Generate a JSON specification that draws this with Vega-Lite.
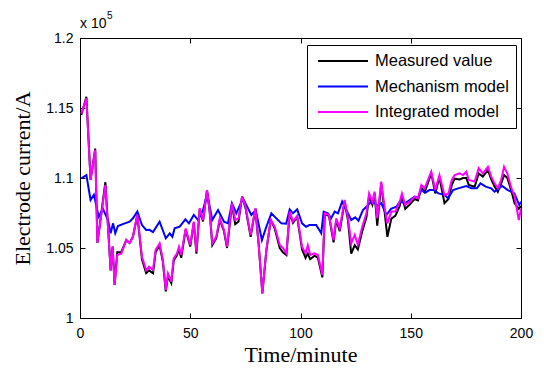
{
  "$schema": "https://vega.github.io/schema/vega-lite/v6.json",
  "width": 441,
  "height": 280,
  "autosize": {"type": "none"},
  "padding": {"left": 80, "top": 38, "right": 23, "bottom": 66},
  "background": "white",
  "config": {
    "view": {"stroke": "black", "strokeWidth": 1},
    "axis": {
      "grid": false,
      "domainColor": "black",
      "tickColor": "black",
      "tickSize": -5,
      "labelFlush": false,
      "labelOverlap": false,
      "labelFont": "Liberation Sans",
      "labelFontSize": 14,
      "labelColor": "black",
      "titleFont": "Liberation Serif",
      "titleFontSize": 22,
      "titleFontWeight": "normal",
      "titleColor": "black"
    }
  },
  "datasets": {
    "series": [
      {"minute": 0.6, "model": "Measured value", "current": 1.145},
      {"minute": 2.9, "model": "Measured value", "current": 1.158},
      {"minute": 4.8, "model": "Measured value", "current": 1.0986},
      {"minute": 6.9, "model": "Measured value", "current": 1.121},
      {"minute": 7.9, "model": "Measured value", "current": 1.0536},
      {"minute": 11.5, "model": "Measured value", "current": 1.097},
      {"minute": 13.9, "model": "Measured value", "current": 1.034},
      {"minute": 14.8, "model": "Measured value", "current": 1.051},
      {"minute": 15.7, "model": "Measured value", "current": 1.0236},
      {"minute": 16.9, "model": "Measured value", "current": 1.047},
      {"minute": 18.7, "model": "Measured value", "current": 1.047},
      {"minute": 21, "model": "Measured value", "current": 1.0557},
      {"minute": 22.5, "model": "Measured value", "current": 1.0536},
      {"minute": 24, "model": "Measured value", "current": 1.058},
      {"minute": 26, "model": "Measured value", "current": 1.0736},
      {"minute": 28.1, "model": "Measured value", "current": 1.042},
      {"minute": 30, "model": "Measured value", "current": 1.032},
      {"minute": 31.3, "model": "Measured value", "current": 1.034},
      {"minute": 33.1, "model": "Measured value", "current": 1.032},
      {"minute": 34.3, "model": "Measured value", "current": 1.047},
      {"minute": 36.1, "model": "Measured value", "current": 1.052},
      {"minute": 37.6, "model": "Measured value", "current": 1.04},
      {"minute": 38.9, "model": "Measured value", "current": 1.019},
      {"minute": 39.9, "model": "Measured value", "current": 1.03},
      {"minute": 41.4, "model": "Measured value", "current": 1.025},
      {"minute": 42.5, "model": "Measured value", "current": 1.041},
      {"minute": 44, "model": "Measured value", "current": 1.045},
      {"minute": 44.9, "model": "Measured value", "current": 1.049},
      {"minute": 45.9, "model": "Measured value", "current": 1.043},
      {"minute": 47.9, "model": "Measured value", "current": 1.063},
      {"minute": 50, "model": "Measured value", "current": 1.051},
      {"minute": 51.6, "model": "Measured value", "current": 1.068},
      {"minute": 52.8, "model": "Measured value", "current": 1.046},
      {"minute": 54.3, "model": "Measured value", "current": 1.078},
      {"minute": 55.8, "model": "Measured value", "current": 1.069},
      {"minute": 57.6, "model": "Measured value", "current": 1.0914},
      {"minute": 58.8, "model": "Measured value", "current": 1.076},
      {"minute": 60, "model": "Measured value", "current": 1.052},
      {"minute": 61.8, "model": "Measured value", "current": 1.057},
      {"minute": 63.4, "model": "Measured value", "current": 1.07},
      {"minute": 65.3, "model": "Measured value", "current": 1.062},
      {"minute": 66.7, "model": "Measured value", "current": 1.05},
      {"minute": 68.9, "model": "Measured value", "current": 1.081},
      {"minute": 70.4, "model": "Measured value", "current": 1.067},
      {"minute": 71.9, "model": "Measured value", "current": 1.069},
      {"minute": 73.5, "model": "Measured value", "current": 1.0867},
      {"minute": 75, "model": "Measured value", "current": 1.079},
      {"minute": 77.4, "model": "Measured value", "current": 1.058},
      {"minute": 79.5, "model": "Measured value", "current": 1.078},
      {"minute": 81, "model": "Measured value", "current": 1.053},
      {"minute": 82.7, "model": "Measured value", "current": 1.0176},
      {"minute": 84.5, "model": "Measured value", "current": 1.048},
      {"minute": 86.5, "model": "Measured value", "current": 1.07},
      {"minute": 88.3, "model": "Measured value", "current": 1.064},
      {"minute": 90.6, "model": "Measured value", "current": 1.05},
      {"minute": 92, "model": "Measured value", "current": 1.047},
      {"minute": 93.6, "model": "Measured value", "current": 1.045},
      {"minute": 95.1, "model": "Measured value", "current": 1.075},
      {"minute": 96.6, "model": "Measured value", "current": 1.068},
      {"minute": 98.5, "model": "Measured value", "current": 1.072},
      {"minute": 100.7, "model": "Measured value", "current": 1.049},
      {"minute": 102.3, "model": "Measured value", "current": 1.043},
      {"minute": 103.3, "model": "Measured value", "current": 1.046},
      {"minute": 104.4, "model": "Measured value", "current": 1.042},
      {"minute": 106.4, "model": "Measured value", "current": 1.0445},
      {"minute": 107.9, "model": "Measured value", "current": 1.043},
      {"minute": 109.9, "model": "Measured value", "current": 1.029},
      {"minute": 111, "model": "Measured value", "current": 1.074},
      {"minute": 112.9, "model": "Measured value", "current": 1.073},
      {"minute": 115, "model": "Measured value", "current": 1.054},
      {"minute": 116.2, "model": "Measured value", "current": 1.07},
      {"minute": 117.8, "model": "Measured value", "current": 1.062},
      {"minute": 120, "model": "Measured value", "current": 1.083},
      {"minute": 121.5, "model": "Measured value", "current": 1.07},
      {"minute": 123, "model": "Measured value", "current": 1.046},
      {"minute": 124.6, "model": "Measured value", "current": 1.052},
      {"minute": 126, "model": "Measured value", "current": 1.049},
      {"minute": 128, "model": "Measured value", "current": 1.062},
      {"minute": 129.9, "model": "Measured value", "current": 1.072},
      {"minute": 131.1, "model": "Measured value", "current": 1.087},
      {"minute": 132.6, "model": "Measured value", "current": 1.081},
      {"minute": 133.6, "model": "Measured value", "current": 1.089},
      {"minute": 134.8, "model": "Measured value", "current": 1.066},
      {"minute": 136.6, "model": "Measured value", "current": 1.096},
      {"minute": 138.2, "model": "Measured value", "current": 1.075},
      {"minute": 139.4, "model": "Measured value", "current": 1.058},
      {"minute": 141.2, "model": "Measured value", "current": 1.071},
      {"minute": 143, "model": "Measured value", "current": 1.073},
      {"minute": 145, "model": "Measured value", "current": 1.08},
      {"minute": 146, "model": "Measured value", "current": 1.087},
      {"minute": 147.5, "model": "Measured value", "current": 1.078},
      {"minute": 149.5, "model": "Measured value", "current": 1.081},
      {"minute": 151.8, "model": "Measured value", "current": 1.085},
      {"minute": 153.3, "model": "Measured value", "current": 1.084},
      {"minute": 154.8, "model": "Measured value", "current": 1.093},
      {"minute": 156.3, "model": "Measured value", "current": 1.09},
      {"minute": 157.5, "model": "Measured value", "current": 1.095},
      {"minute": 159.3, "model": "Measured value", "current": 1.1035},
      {"minute": 161.1, "model": "Measured value", "current": 1.089},
      {"minute": 163, "model": "Measured value", "current": 1.1005},
      {"minute": 165.3, "model": "Measured value", "current": 1.082},
      {"minute": 167.1, "model": "Measured value", "current": 1.085},
      {"minute": 168.6, "model": "Measured value", "current": 1.095},
      {"minute": 169.9, "model": "Measured value", "current": 1.0995},
      {"minute": 172.2, "model": "Measured value", "current": 1.099},
      {"minute": 173.7, "model": "Measured value", "current": 1.1},
      {"minute": 175.2, "model": "Measured value", "current": 1.1},
      {"minute": 176.3, "model": "Measured value", "current": 1.095},
      {"minute": 179, "model": "Measured value", "current": 1.0938},
      {"minute": 180.8, "model": "Measured value", "current": 1.1033},
      {"minute": 182.7, "model": "Measured value", "current": 1.101},
      {"minute": 185, "model": "Measured value", "current": 1.1057},
      {"minute": 186.5, "model": "Measured value", "current": 1.099},
      {"minute": 188, "model": "Measured value", "current": 1.094},
      {"minute": 189.5, "model": "Measured value", "current": 1.0902},
      {"minute": 191, "model": "Measured value", "current": 1.096},
      {"minute": 192.3, "model": "Measured value", "current": 1.1021},
      {"minute": 193.8, "model": "Measured value", "current": 1.1},
      {"minute": 195.6, "model": "Measured value", "current": 1.091},
      {"minute": 197.1, "model": "Measured value", "current": 1.0819},
      {"minute": 199, "model": "Measured value", "current": 1.078},
      {"minute": 200, "model": "Measured value", "current": 1.08},

      {"minute": 0.6, "model": "Mechanism model", "current": 1.0998},
      {"minute": 2.9, "model": "Mechanism model", "current": 1.102},
      {"minute": 4.8, "model": "Mechanism model", "current": 1.0843},
      {"minute": 6.3, "model": "Mechanism model", "current": 1.088},
      {"minute": 8.5, "model": "Mechanism model", "current": 1.0724},
      {"minute": 10.4, "model": "Mechanism model", "current": 1.078},
      {"minute": 12.7, "model": "Mechanism model", "current": 1.07},
      {"minute": 13.9, "model": "Mechanism model", "current": 1.0605},
      {"minute": 15, "model": "Mechanism model", "current": 1.0676},
      {"minute": 16, "model": "Mechanism model", "current": 1.0605},
      {"minute": 17.2, "model": "Mechanism model", "current": 1.0657},
      {"minute": 20.3, "model": "Mechanism model", "current": 1.0676},
      {"minute": 22.5, "model": "Mechanism model", "current": 1.0688},
      {"minute": 24, "model": "Mechanism model", "current": 1.0712},
      {"minute": 26, "model": "Mechanism model", "current": 1.076},
      {"minute": 28.1, "model": "Mechanism model", "current": 1.0664},
      {"minute": 30, "model": "Mechanism model", "current": 1.0629},
      {"minute": 31.5, "model": "Mechanism model", "current": 1.063},
      {"minute": 33.1, "model": "Mechanism model", "current": 1.0614},
      {"minute": 36.1, "model": "Mechanism model", "current": 1.0688},
      {"minute": 38.9, "model": "Mechanism model", "current": 1.0569},
      {"minute": 40.7, "model": "Mechanism model", "current": 1.0605},
      {"minute": 41.9, "model": "Mechanism model", "current": 1.058},
      {"minute": 42.9, "model": "Mechanism model", "current": 1.064},
      {"minute": 45.2, "model": "Mechanism model", "current": 1.0652},
      {"minute": 47.8, "model": "Mechanism model", "current": 1.0705},
      {"minute": 49.4, "model": "Mechanism model", "current": 1.0676},
      {"minute": 51.6, "model": "Mechanism model", "current": 1.0736},
      {"minute": 53.5, "model": "Mechanism model", "current": 1.07},
      {"minute": 55.8, "model": "Mechanism model", "current": 1.0771},
      {"minute": 57.7, "model": "Mechanism model", "current": 1.089},
      {"minute": 60, "model": "Mechanism model", "current": 1.07},
      {"minute": 62.6, "model": "Mechanism model", "current": 1.0771},
      {"minute": 65.3, "model": "Mechanism model", "current": 1.0688},
      {"minute": 67.1, "model": "Mechanism model", "current": 1.0676},
      {"minute": 68.9, "model": "Mechanism model", "current": 1.0819},
      {"minute": 70.9, "model": "Mechanism model", "current": 1.0748},
      {"minute": 73.9, "model": "Mechanism model", "current": 1.0855},
      {"minute": 76.2, "model": "Mechanism model", "current": 1.0783},
      {"minute": 77.7, "model": "Mechanism model", "current": 1.0736},
      {"minute": 79.7, "model": "Mechanism model", "current": 1.0771},
      {"minute": 82.5, "model": "Mechanism model", "current": 1.0557},
      {"minute": 84.5, "model": "Mechanism model", "current": 1.0652},
      {"minute": 86.8, "model": "Mechanism model", "current": 1.0748},
      {"minute": 89, "model": "Mechanism model", "current": 1.0712},
      {"minute": 91.3, "model": "Mechanism model", "current": 1.0676},
      {"minute": 93.5, "model": "Mechanism model", "current": 1.0674},
      {"minute": 95.1, "model": "Mechanism model", "current": 1.0776},
      {"minute": 96.6, "model": "Mechanism model", "current": 1.0748},
      {"minute": 98.5, "model": "Mechanism model", "current": 1.0776},
      {"minute": 100.7, "model": "Mechanism model", "current": 1.0676},
      {"minute": 102.5, "model": "Mechanism model", "current": 1.0652},
      {"minute": 104, "model": "Mechanism model", "current": 1.0664},
      {"minute": 107.1, "model": "Mechanism model", "current": 1.0664},
      {"minute": 109.4, "model": "Mechanism model", "current": 1.0605},
      {"minute": 110.5, "model": "Mechanism model", "current": 1.076},
      {"minute": 112.4, "model": "Mechanism model", "current": 1.0748},
      {"minute": 113.9, "model": "Mechanism model", "current": 1.0712},
      {"minute": 115.5, "model": "Mechanism model", "current": 1.076},
      {"minute": 117, "model": "Mechanism model", "current": 1.0748},
      {"minute": 118.9, "model": "Mechanism model", "current": 1.0831},
      {"minute": 120.8, "model": "Mechanism model", "current": 1.0771},
      {"minute": 123, "model": "Mechanism model", "current": 1.07},
      {"minute": 124.8, "model": "Mechanism model", "current": 1.0719},
      {"minute": 126.3, "model": "Mechanism model", "current": 1.0695},
      {"minute": 128.3, "model": "Mechanism model", "current": 1.0771},
      {"minute": 130.3, "model": "Mechanism model", "current": 1.08},
      {"minute": 132.1, "model": "Mechanism model", "current": 1.0831},
      {"minute": 133.6, "model": "Mechanism model", "current": 1.082},
      {"minute": 135.1, "model": "Mechanism model", "current": 1.08},
      {"minute": 136.6, "model": "Mechanism model", "current": 1.082},
      {"minute": 139, "model": "Mechanism model", "current": 1.0736},
      {"minute": 141, "model": "Mechanism model", "current": 1.078},
      {"minute": 143.5, "model": "Mechanism model", "current": 1.0795},
      {"minute": 145, "model": "Mechanism model", "current": 1.0831},
      {"minute": 147.5, "model": "Mechanism model", "current": 1.082},
      {"minute": 149.5, "model": "Mechanism model", "current": 1.0843},
      {"minute": 151.8, "model": "Mechanism model", "current": 1.0867},
      {"minute": 153.3, "model": "Mechanism model", "current": 1.086},
      {"minute": 154.8, "model": "Mechanism model", "current": 1.0914},
      {"minute": 156.5, "model": "Mechanism model", "current": 1.0895},
      {"minute": 158.5, "model": "Mechanism model", "current": 1.0914},
      {"minute": 160.5, "model": "Mechanism model", "current": 1.0914},
      {"minute": 162.5, "model": "Mechanism model", "current": 1.089},
      {"minute": 165.3, "model": "Mechanism model", "current": 1.088},
      {"minute": 166.9, "model": "Mechanism model", "current": 1.0855},
      {"minute": 169.2, "model": "Mechanism model", "current": 1.0914},
      {"minute": 171.5, "model": "Mechanism model", "current": 1.0926},
      {"minute": 175.2, "model": "Mechanism model", "current": 1.0943},
      {"minute": 177.5, "model": "Mechanism model", "current": 1.0926},
      {"minute": 180, "model": "Mechanism model", "current": 1.0926},
      {"minute": 181.6, "model": "Mechanism model", "current": 1.0962},
      {"minute": 184, "model": "Mechanism model", "current": 1.0938},
      {"minute": 186.5, "model": "Mechanism model", "current": 1.0926},
      {"minute": 188, "model": "Mechanism model", "current": 1.0902},
      {"minute": 191.5, "model": "Mechanism model", "current": 1.0943},
      {"minute": 194, "model": "Mechanism model", "current": 1.0914},
      {"minute": 197, "model": "Mechanism model", "current": 1.089},
      {"minute": 199.2, "model": "Mechanism model", "current": 1.0807},
      {"minute": 200, "model": "Mechanism model", "current": 1.0831},

      {"minute": 0.6, "model": "Integrated model", "current": 1.146},
      {"minute": 2.9, "model": "Integrated model", "current": 1.157},
      {"minute": 4.8, "model": "Integrated model", "current": 1.0986},
      {"minute": 6.9, "model": "Integrated model", "current": 1.12},
      {"minute": 7.9, "model": "Integrated model", "current": 1.0536},
      {"minute": 11.5, "model": "Integrated model", "current": 1.095},
      {"minute": 13.9, "model": "Integrated model", "current": 1.034},
      {"minute": 14.8, "model": "Integrated model", "current": 1.051},
      {"minute": 15.7, "model": "Integrated model", "current": 1.0236},
      {"minute": 16.9, "model": "Integrated model", "current": 1.045},
      {"minute": 18.7, "model": "Integrated model", "current": 1.046},
      {"minute": 21, "model": "Integrated model", "current": 1.0557},
      {"minute": 22.5, "model": "Integrated model", "current": 1.0536},
      {"minute": 24, "model": "Integrated model", "current": 1.058},
      {"minute": 26, "model": "Integrated model", "current": 1.0736},
      {"minute": 28.1, "model": "Integrated model", "current": 1.0438},
      {"minute": 30, "model": "Integrated model", "current": 1.034},
      {"minute": 31.3, "model": "Integrated model", "current": 1.0367},
      {"minute": 33.1, "model": "Integrated model", "current": 1.0343},
      {"minute": 34.3, "model": "Integrated model", "current": 1.0486},
      {"minute": 36.1, "model": "Integrated model", "current": 1.0533},
      {"minute": 37.6, "model": "Integrated model", "current": 1.0414},
      {"minute": 38.9, "model": "Integrated model", "current": 1.02},
      {"minute": 39.9, "model": "Integrated model", "current": 1.0319},
      {"minute": 41.4, "model": "Integrated model", "current": 1.026},
      {"minute": 42.5, "model": "Integrated model", "current": 1.0426},
      {"minute": 44, "model": "Integrated model", "current": 1.0462},
      {"minute": 44.9, "model": "Integrated model", "current": 1.051},
      {"minute": 45.9, "model": "Integrated model", "current": 1.045},
      {"minute": 47.9, "model": "Integrated model", "current": 1.064},
      {"minute": 50, "model": "Integrated model", "current": 1.0521},
      {"minute": 51.6, "model": "Integrated model", "current": 1.0688},
      {"minute": 52.8, "model": "Integrated model", "current": 1.0474},
      {"minute": 54.3, "model": "Integrated model", "current": 1.0783},
      {"minute": 55.8, "model": "Integrated model", "current": 1.07},
      {"minute": 57.6, "model": "Integrated model", "current": 1.0914},
      {"minute": 58.8, "model": "Integrated model", "current": 1.0771},
      {"minute": 60, "model": "Integrated model", "current": 1.0533},
      {"minute": 61.8, "model": "Integrated model", "current": 1.058},
      {"minute": 63.4, "model": "Integrated model", "current": 1.0712},
      {"minute": 65.3, "model": "Integrated model", "current": 1.0629},
      {"minute": 66.7, "model": "Integrated model", "current": 1.051},
      {"minute": 68.9, "model": "Integrated model", "current": 1.0819},
      {"minute": 70.4, "model": "Integrated model", "current": 1.07},
      {"minute": 71.9, "model": "Integrated model", "current": 1.0712},
      {"minute": 73.5, "model": "Integrated model", "current": 1.0867},
      {"minute": 75, "model": "Integrated model", "current": 1.08},
      {"minute": 77.4, "model": "Integrated model", "current": 1.0593},
      {"minute": 79.5, "model": "Integrated model", "current": 1.0783},
      {"minute": 81, "model": "Integrated model", "current": 1.0533},
      {"minute": 82.7, "model": "Integrated model", "current": 1.0176},
      {"minute": 84.5, "model": "Integrated model", "current": 1.0486},
      {"minute": 86.5, "model": "Integrated model", "current": 1.07},
      {"minute": 88.3, "model": "Integrated model", "current": 1.0652},
      {"minute": 90.6, "model": "Integrated model", "current": 1.0521},
      {"minute": 92, "model": "Integrated model", "current": 1.05},
      {"minute": 93.6, "model": "Integrated model", "current": 1.0462},
      {"minute": 95.1, "model": "Integrated model", "current": 1.076},
      {"minute": 96.6, "model": "Integrated model", "current": 1.0688},
      {"minute": 98.5, "model": "Integrated model", "current": 1.073},
      {"minute": 100.7, "model": "Integrated model", "current": 1.051},
      {"minute": 102.3, "model": "Integrated model", "current": 1.0462},
      {"minute": 103.3, "model": "Integrated model", "current": 1.052},
      {"minute": 104.4, "model": "Integrated model", "current": 1.045},
      {"minute": 106.4, "model": "Integrated model", "current": 1.0462},
      {"minute": 107.9, "model": "Integrated model", "current": 1.045},
      {"minute": 109.9, "model": "Integrated model", "current": 1.0307},
      {"minute": 111, "model": "Integrated model", "current": 1.0748},
      {"minute": 112.9, "model": "Integrated model", "current": 1.0736},
      {"minute": 115, "model": "Integrated model", "current": 1.0557},
      {"minute": 116.2, "model": "Integrated model", "current": 1.0712},
      {"minute": 117.8, "model": "Integrated model", "current": 1.064},
      {"minute": 120, "model": "Integrated model", "current": 1.0843},
      {"minute": 121.5, "model": "Integrated model", "current": 1.0719},
      {"minute": 123, "model": "Integrated model", "current": 1.0533},
      {"minute": 124.6, "model": "Integrated model", "current": 1.0593},
      {"minute": 126, "model": "Integrated model", "current": 1.0521},
      {"minute": 128, "model": "Integrated model", "current": 1.0652},
      {"minute": 129.9, "model": "Integrated model", "current": 1.0748},
      {"minute": 131.1, "model": "Integrated model", "current": 1.089},
      {"minute": 132.6, "model": "Integrated model", "current": 1.0831},
      {"minute": 133.6, "model": "Integrated model", "current": 1.0902},
      {"minute": 134.8, "model": "Integrated model", "current": 1.0712},
      {"minute": 136.6, "model": "Integrated model", "current": 1.0974},
      {"minute": 138.2, "model": "Integrated model", "current": 1.0783},
      {"minute": 139.4, "model": "Integrated model", "current": 1.0676},
      {"minute": 141.2, "model": "Integrated model", "current": 1.076},
      {"minute": 143, "model": "Integrated model", "current": 1.076},
      {"minute": 145, "model": "Integrated model", "current": 1.0831},
      {"minute": 146, "model": "Integrated model", "current": 1.089},
      {"minute": 147.5, "model": "Integrated model", "current": 1.0807},
      {"minute": 149.5, "model": "Integrated model", "current": 1.0831},
      {"minute": 151.8, "model": "Integrated model", "current": 1.0867},
      {"minute": 153.3, "model": "Integrated model", "current": 1.0855},
      {"minute": 154.8, "model": "Integrated model", "current": 1.095},
      {"minute": 156.3, "model": "Integrated model", "current": 1.0926},
      {"minute": 157.5, "model": "Integrated model", "current": 1.0974},
      {"minute": 159.3, "model": "Integrated model", "current": 1.1045},
      {"minute": 161.1, "model": "Integrated model", "current": 1.0914},
      {"minute": 163, "model": "Integrated model", "current": 1.1021},
      {"minute": 165.3, "model": "Integrated model", "current": 1.0878},
      {"minute": 167.1, "model": "Integrated model", "current": 1.089},
      {"minute": 168.6, "model": "Integrated model", "current": 1.0986},
      {"minute": 169.9, "model": "Integrated model", "current": 1.1021},
      {"minute": 172.2, "model": "Integrated model", "current": 1.1033},
      {"minute": 173.7, "model": "Integrated model", "current": 1.1021},
      {"minute": 175.2, "model": "Integrated model", "current": 1.1045},
      {"minute": 176.3, "model": "Integrated model", "current": 1.0986},
      {"minute": 179, "model": "Integrated model", "current": 1.0974},
      {"minute": 180.8, "model": "Integrated model", "current": 1.107},
      {"minute": 182.7, "model": "Integrated model", "current": 1.1033},
      {"minute": 185, "model": "Integrated model", "current": 1.108},
      {"minute": 186.5, "model": "Integrated model", "current": 1.101},
      {"minute": 188, "model": "Integrated model", "current": 1.0962},
      {"minute": 189.5, "model": "Integrated model", "current": 1.0926},
      {"minute": 191, "model": "Integrated model", "current": 1.0986},
      {"minute": 192.3, "model": "Integrated model", "current": 1.108},
      {"minute": 193.8, "model": "Integrated model", "current": 1.1033},
      {"minute": 195.6, "model": "Integrated model", "current": 1.093},
      {"minute": 197.1, "model": "Integrated model", "current": 1.0867},
      {"minute": 199, "model": "Integrated model", "current": 1.07},
      {"minute": 200, "model": "Integrated model", "current": 1.078}
    ],
    "exponent": [{"base": "x 10", "power": "5"}]
  },
  "layer": [
    {
      "data": {"name": "series"},
      "mark": {"type": "line", "strokeWidth": 2, "clip": true},
      "encoding": {
        "x": {
          "field": "minute", "type": "quantitative",
          "scale": {"domain": [0, 200], "nice": false, "zero": false},
          "axis": {"orient": "bottom", "values": [0, 50, 100, 150, 200], "title": "Time/minute", "labelPadding": 13, "titlePadding": 4}
        },
        "y": {
          "field": "current", "type": "quantitative",
          "scale": {"domain": [1, 1.2], "nice": false, "zero": false},
          "axis": {"orient": "left", "values": [1, 1.05, 1.1, 1.15, 1.2], "format": "~g", "title": "Electrode current/A", "labelPadding": 12, "titlePadding": 11}
        },
        "color": {
          "field": "model", "type": "nominal",
          "scale": {"domain": ["Measured value", "Mechanism model", "Integrated model"], "range": ["#000000", "#0000ff", "#ff00ff"]},
          "legend": {
            "title": null, "orient": "none", "legendX": 227, "legendY": 7,
            "padding": 7, "strokeColor": "black", "fillColor": "white", "cornerRadius": 0,
            "symbolType": "M-0.625,0H5.625", "symbolSize": 256, "symbolStrokeWidth": 2,
            "labelFont": "Liberation Sans", "labelFontSize": 16.5, "labelColor": "black",
            "labelOffset": 43, "rowPadding": 7.5
          }
        }
      }
    },
    {
      "data": {"values": [{"minute": 0, "current": 1}]},
      "mark": {"type": "point", "opacity": 0},
      "encoding": {
        "x": {"field": "minute", "type": "quantitative", "axis": {"orient": "top", "values": [0, 50, 100, 150, 200], "labels": false, "title": null}},
        "y": {"field": "current", "type": "quantitative", "axis": {"orient": "right", "values": [1, 1.05, 1.1, 1.15, 1.2], "labels": false, "title": null}}
      }
    },
    {
      "data": {"name": "exponent"},
      "mark": {"type": "text", "align": "left", "baseline": "alphabetic", "dy": -10, "font": "Liberation Sans", "fontSize": 14, "color": "black"},
      "encoding": {
        "x": {"datum": 0, "type": "quantitative", "axis": null},
        "y": {"datum": 1.2, "type": "quantitative", "axis": null},
        "text": {"field": "base"}
      }
    },
    {
      "data": {"name": "exponent"},
      "mark": {"type": "text", "align": "left", "baseline": "alphabetic", "dx": 27, "dy": -19, "font": "Liberation Sans", "fontSize": 10, "color": "black"},
      "encoding": {
        "x": {"datum": 0, "type": "quantitative", "axis": null},
        "y": {"datum": 1.2, "type": "quantitative", "axis": null},
        "text": {"field": "power"}
      }
    }
  ],
  "resolve": {"axis": {"x": "independent", "y": "independent"}}
}
